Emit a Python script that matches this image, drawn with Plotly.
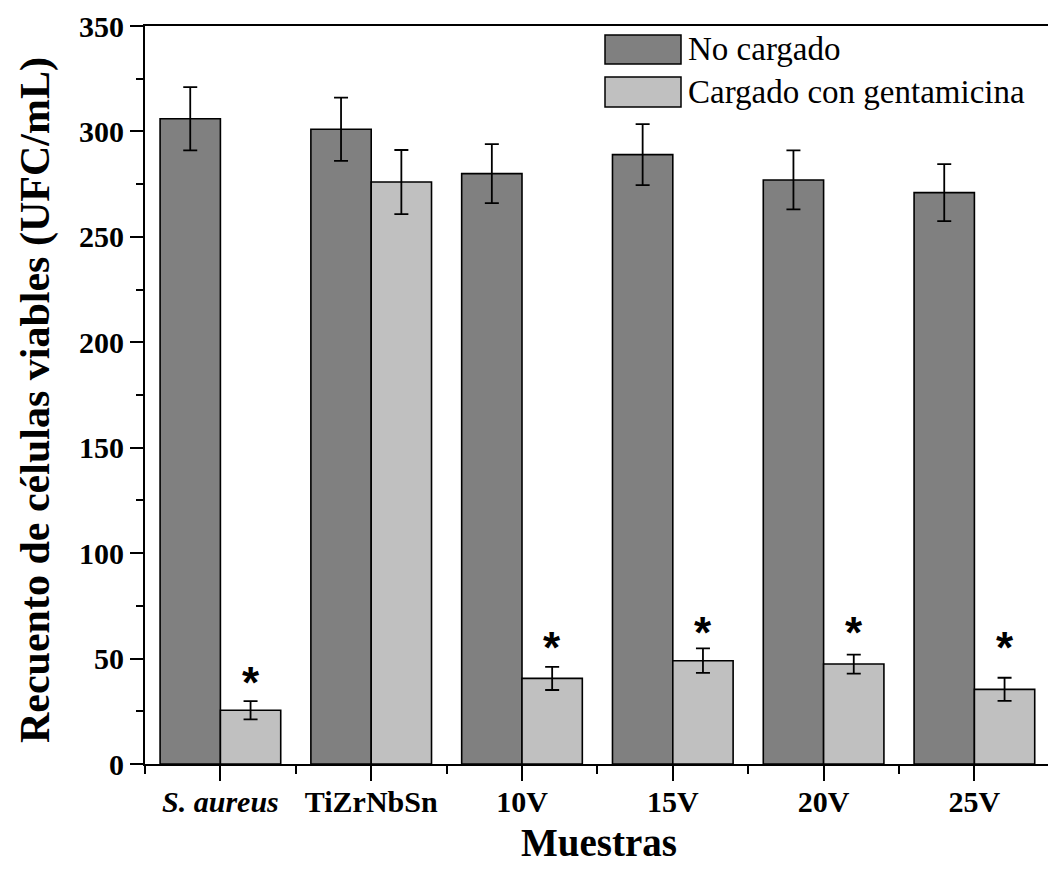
import plotly.graph_objects as go

categories = ["<i>S. aureus</i>", "TiZrNbSn", "10V", "15V", "20V", "25V"]
no_cargado = [306, 301, 280, 289, 277, 271]
no_cargado_err = [15, 15, 14, 14.5, 14, 13.5]
cargado = [25.5, 276, 40.6, 49, 47.4, 35.4]
cargado_err = [4.3, 15.2, 5.5, 5.8, 4.5, 5.5]
asterisk_y = [43.6, None, 60.2, 67.3, 67.3, 60.2]
y_ticks = [0, 50, 100, 150, 200, 250, 300, 350]

W, H = 1048, 875
L, R_PX, T, B_PX = 145, 1048, 26, 764
pw, ph = R_PX - L, B_PX - T

def px_x(px):
    return (px - L) / pw

def px_y(py):
    return (B_PX - py) / ph

x = list(range(len(categories)))
serif = "Liberation Serif"
bw = 0.40

fig = go.Figure()
fig.add_trace(go.Bar(
    x=x, y=no_cargado, width=bw, offset=-bw, name="No cargado",
    marker=dict(color="#808080", line=dict(color="black", width=1.6)),
    error_y=dict(type="data", array=no_cargado_err, color="black", thickness=1.8, width=7),
))
fig.add_trace(go.Bar(
    x=x, y=cargado, width=bw, offset=0, name="Cargado con gentamicina",
    marker=dict(color="#c0c0c0", line=dict(color="black", width=1.6)),
    error_y=dict(type="data", array=cargado_err, color="black", thickness=1.8, width=7),
))

annotations = []
for i, ay in enumerate(asterisk_y):
    if ay is None:
        continue
    annotations.append(dict(x=i + bw / 2, y=ay, xref="x", yref="y", text="*",
                            showarrow=False, yshift=-10, xanchor="center", yanchor="middle",
                            font=dict(family="Liberation Sans", size=44, color="black", weight="bold")))

# axis titles
annotations.append(dict(x=px_x(599), y=px_y(842), xref="paper", yref="paper",
                        text="Muestras", showarrow=False, xanchor="center", yanchor="middle",
                        font=dict(family=serif, size=39, color="black", weight="bold")))
annotations.append(dict(x=px_x(35), y=px_y(400), xref="paper", yref="paper",
                        text="Recuento de células viables (UFC/mL)", showarrow=False, textangle=-90,
                        xanchor="center", yanchor="middle",
                        font=dict(family=serif, size=42, color="black", weight="bold")))

# legend (manual)
legend_items = [("No cargado", "#808080", 35, 64), ("Cargado con gentamicina", "#c0c0c0", 77, 107)]
shapes = []
for label, col, y0, y1 in legend_items:
    shapes.append(dict(type="rect", xref="paper", yref="paper",
                       x0=px_x(605), x1=px_x(681), y0=px_y(y1), y1=px_y(y0),
                       fillcolor=col, line=dict(color="black", width=1.5)))
    annotations.append(dict(x=px_x(686), y=px_y((y0 + y1) / 2), xref="paper", yref="paper",
                            text=label, showarrow=False, xanchor="left", yanchor="middle",
                            font=dict(family=serif, size=33, color="black")))

fig.update_layout(
    width=W, height=H,
    margin=dict(l=L, r=W - R_PX, t=T, b=H - B_PX, pad=0),
    plot_bgcolor="white", paper_bgcolor="white",
    showlegend=False,
    barmode="overlay",
    annotations=annotations,
    shapes=shapes,
    xaxis=dict(
        range=[-0.5, -0.5 + pw / 150.8],
        tickmode="array", tickvals=x, ticktext=categories,
        ticks="outside", ticklen=15, tickwidth=2, tickcolor="black",
        showline=True, linecolor="black", linewidth=2, mirror=True,
        showgrid=False, zeroline=False,
        tickfont=dict(family=serif, size=30, color="black", weight="bold"),
        ticklabelstandoff=-5,
        minor=dict(tickmode="array", tickvals=[i - 0.5 for i in range(len(categories) + 1)],
                   ticks="outside", ticklen=8, tickwidth=2, tickcolor="black", showgrid=False),
    ),
    yaxis=dict(
        range=[0, 350],
        tickmode="array", tickvals=y_ticks,
        ticks="outside", ticklen=13, tickwidth=2, tickcolor="black",
        showline=True, linecolor="black", linewidth=2,
        showgrid=False, zeroline=False,
        tickfont=dict(family=serif, size=30, color="black", weight="bold"),
        ticklabelstandoff=0,
        minor=dict(dtick=25, ticks="outside", ticklen=7, tickwidth=2, tickcolor="black", showgrid=False),
    ),
)

fig.write_html("out.html")
